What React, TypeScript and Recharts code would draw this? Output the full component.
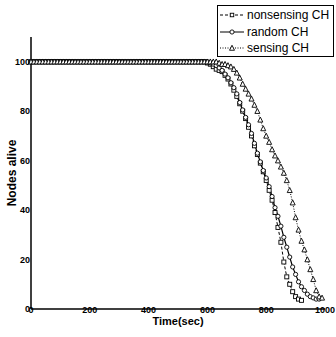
import { Line, LineChart, XAxis, YAxis } from "recharts";

const times = [
  0, 10, 20, 30, 40, 50, 60, 70, 80, 90,
  100, 110, 120, 130, 140, 150, 160, 170, 180, 190,
  200, 210, 220, 230, 240, 250, 260, 270, 280, 290,
  300, 310, 320, 330, 340, 350, 360, 370, 380, 390,
  400, 410, 420, 430, 440, 450, 460, 470, 480, 490,
  500, 510, 520, 530, 540, 550, 560, 570, 580, 590,
  600, 610, 620, 630, 640, 650, 660, 670, 680, 690,
  700, 710, 720, 730, 740, 750, 760, 770, 780, 790,
  800, 810, 820, 830, 840, 850, 860, 870, 880, 890,
  900, 910, 920, 930, 940, 950, 960, 970, 980, 990,
  1000,
];

const nonsensing = [
  100, 100, 100, 100, 100, 100, 100, 100, 100, 100,
  100, 100, 100, 100, 100, 100, 100, 100, 100, 100,
  100, 100, 100, 100, 100, 100, 100, 100, 100, 100,
  100, 100, 100, 100, 100, 100, 100, 100, 100, 100,
  100, 100, 100, 100, 100, 100, 100, 100, 100, 100,
  100, 100, 100, 100, 100, 100, 100, 100, 100, 100,
  99.5, 99, 98, 97, 96.5, 96, 94.5, 93, 91, 88.5,
  86, 83, 80, 77, 73.5, 70, 66, 62.5, 59, 55.5,
  52, 48, 44, 39, 33, 27, 19, 13, 10, 7,
  5, 4, 3.5, null, null, null, null, null, null, null,
  null,
];

const random = [
  100, 100, 100, 100, 100, 100, 100, 100, 100, 100,
  100, 100, 100, 100, 100, 100, 100, 100, 100, 100,
  100, 100, 100, 100, 100, 100, 100, 100, 100, 100,
  100, 100, 100, 100, 100, 100, 100, 100, 100, 100,
  100, 100, 100, 100, 100, 100, 100, 100, 100, 100,
  100, 100, 100, 100, 100, 100, 100, 100, 100, 100,
  100, 99.5, 99, 98.5, 97.5, 96.5, 95, 93.5, 91.5, 89.5,
  87, 83.5, 80.5, 77.5, 74.5, 71, 67, 63, 59.5, 56,
  53, 49.5, 45.5, 41, 37.5, 33.5, 29, 25, 21, 17,
  14, 11, 9, 7.5, 6, 5, 4.5, 4, 4, null,
  null,
];

const sensing = [
  100, 100, 100, 100, 100, 100, 100, 100, 100, 100,
  100, 100, 100, 100, 100, 100, 100, 100, 100, 100,
  100, 100, 100, 100, 100, 100, 100, 100, 100, 100,
  100, 100, 100, 100, 100, 100, 100, 100, 100, 100,
  100, 100, 100, 100, 100, 100, 100, 100, 100, 100,
  100, 100, 100, 100, 100, 100, 100, 100, 100, 100,
  100, 100, 100, 100, 99.5, 99, 99, 98.5, 98, 97,
  95.5, 93.5, 91, 89, 87, 85, 82.5, 80, 76.5, 73,
  70, 67.5, 64.5, 62, 60, 57.5, 55, 52, 48, 43,
  37, 32, 27.5, 24, 20, 16, 12, 7.5, 5, 4.5,
  null,
];

const xTicks = [0, 200, 400, 600, 800, 1000];
const yTicks = [0, 20, 40, 60, 80, 100];

const data = times.map((t, i) => ({ t, a: nonsensing[i], b: random[i], c: sensing[i] }));

const FONT = "'Liberation Sans', Arial, sans-serif";

function Square({ cx, cy, size = 4 }: any) {
  if (cx == null || cy == null) return null;
  return <rect x={cx - size / 2} y={cy - size / 2} width={size} height={size} fill="#fff" stroke="#000" strokeWidth={0.9} />;
}

function Tri({ cx, cy, size = 5 }: any) {
  if (cx == null || cy == null) return null;
  const h = size * 0.9;
  return (
    <polygon
      points={`${cx},${cy - h / 2 - 0.5} ${cx - size / 2},${cy + h / 2} ${cx + size / 2},${cy + h / 2}`}
      fill="#fff"
      stroke="#000"
      strokeWidth={0.9}
    />
  );
}

function Circ({ cx, cy }: any) {
  if (cx == null || cy == null) return null;
  return <circle cx={cx} cy={cy} r={2.1} fill="#fff" stroke="#000" strokeWidth={0.9} />;
}

const ROWS = [
  { label: "nonsensing CH", dash: "3 2", mark: "sq" },
  { label: "random CH", dash: undefined, mark: "ci" },
  { label: "sensing CH", dash: "1 1.5", mark: "tr" },
];

// legend drawn as an overlay so it doesn't eat into the plot area
function LegendBox() {
  return (
    <div style={{ position: "absolute", left: 217, top: 5, width: 117, height: 52, border: "1px solid #000", background: "#fff", boxSizing: "border-box", paddingTop: 1 }}>
      {ROWS.map((r) => (
        <div key={r.label} style={{ display: "flex", alignItems: "center", height: 16.5 }}>
          <svg width={28} height={12} style={{ flexShrink: 0 }}>
            <line x1={2} y1={6} x2={26} y2={6} stroke="#000" strokeWidth={1} strokeDasharray={r.dash} />
            {r.mark === "sq" && <Square cx={14} cy={6} size={3.5} />}
            {r.mark === "ci" && <Circ cx={14} cy={6} />}
            {r.mark === "tr" && <Tri cx={14} cy={6} size={5} />}
          </svg>
          <span style={{ fontFamily: FONT, fontSize: 12, color: "#000", marginLeft: 1, whiteSpace: "nowrap" }}>{r.label}</span>
        </div>
      ))}
    </div>
  );
}

export default function App() {
  return (
    <div style={{ position: "absolute", left: 0, top: 0, width: 336, height: 337, background: "#fff" }}>
      <LineChart width={336} height={337} data={data} margin={{ top: 37, right: 11, bottom: 0, left: 0 }}>
        <XAxis
          dataKey="t"
          type="number"
          domain={[0, 1000]}
          ticks={xTicks}
          height={28}
          axisLine={{ stroke: "#000", strokeWidth: 1.5 }}
          tickLine={false}
          tickSize={0}
          tickMargin={-2}
          tick={{ fill: "#000", fontSize: 9, fontWeight: "bold", fontFamily: FONT }}
          label={{ value: "Time(sec)", position: "insideBottom", offset: 12, fill: "#000", fontSize: 11, fontWeight: "bold", fontFamily: FONT }}
        />
        <YAxis
          type="number"
          domain={[0, 110]}
          ticks={yTicks}
          width={31}
          axisLine={{ stroke: "#000", strokeWidth: 1.5 }}
          tickLine={false}
          tickSize={0}
          tickMargin={1}
          tick={{ fill: "#000", fontSize: 9, fontWeight: "bold", fontFamily: FONT }}
          label={{ value: "Nodes alive", angle: -90, position: "center", dx: -4, fill: "#000", fontSize: 12, fontWeight: "bold", fontFamily: FONT }}
        />
        <Line dataKey="a" name="nonsensing CH" stroke="#000" strokeWidth={1} strokeDasharray="3 2" dot={<Square />} activeDot={false} isAnimationActive={false} />
        <Line dataKey="b" name="random CH" stroke="#000" strokeWidth={1.2} dot={<Circ />} activeDot={false} isAnimationActive={false} />
        <Line dataKey="c" name="sensing CH" stroke="#000" strokeWidth={1} strokeDasharray="1 1.5" dot={<Tri />} activeDot={false} isAnimationActive={false} />
      </LineChart>
      <LegendBox />
    </div>
  );
}
